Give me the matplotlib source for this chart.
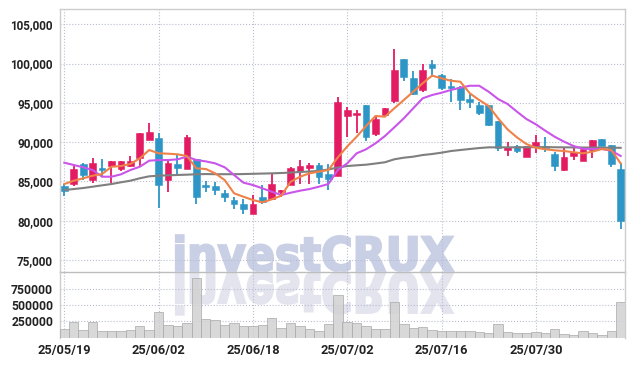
import matplotlib
matplotlib.use('Agg')
import matplotlib.pyplot as plt
from matplotlib.ticker import FuncFormatter, FixedLocator
from matplotlib.textpath import TextPath
from matplotlib.patches import PathPatch
from matplotlib.transforms import Affine2D
from matplotlib.font_manager import FontProperties

# daily candles, 60 sessions
date_labels = ['25/05/19', '25/06/02', '25/06/18', '25/07/02', '25/07/16', '25/07/30']
date_pos = [0, 10, 20, 30, 40, 50]

opens = [84400, 84700, 87200, 85200, 86700, 87000, 86600, 87000, 88000, 90300,
         90500, 85200, 87200, 86600, 87900, 84500, 84400, 83500, 82600, 82100,
         80900, 83000, 82700, 83600, 84600, 86300, 86700, 87100, 85900, 85700,
         93300, 93500, 94700, 91000, 93400, 95300, 100600, 98200, 96700, 100000,
         98500, 97200, 97000, 95500, 94700, 94700, 92700, 89000, 89500, 88100,
         89500, 89500, 88500, 86400, 88200, 87600, 89000, 90400, 89700, 86600]
highs = [84700, 87100, 87300, 88000, 87800, 87600, 87600, 88200, 91200, 92500,
         91200, 87800, 88400, 90900, 87900, 85000, 84900, 83900, 83000, 82700,
         83300, 84600, 86000, 83900, 86800, 87700, 87400, 87300, 87200, 95700,
         94500, 94100, 94700, 93300, 94400, 101800, 100600, 99000, 99900, 100500,
         98700, 98100, 97200, 96100, 95100, 94700, 92700, 90000, 89600, 89500,
         90900, 90700, 88800, 89200, 89400, 89200, 90300, 90400, 89700, 87300]
lows = [83200, 84400, 85200, 84800, 85700, 84800, 86300, 86800, 86900, 90300,
        81600, 83700, 85800, 86600, 82100, 83700, 83300, 82400, 81500, 80900,
        80900, 82100, 82600, 83000, 84500, 84700, 84700, 84700, 83900, 85700,
        90600, 91200, 90200, 90800, 93400, 95000, 97800, 96000, 96400, 98400,
        96600, 95100, 94100, 94300, 93500, 92100, 88900, 88300, 88600, 88100,
        88600, 88800, 86300, 86300, 87700, 87600, 88000, 89500, 86800, 79000]
closes = [83800, 86600, 85800, 87400, 86400, 87600, 87600, 87600, 91200, 91300,
          84500, 87400, 86700, 90600, 83000, 84300, 83900, 83000, 82100, 81500,
          82100, 82400, 84700, 83900, 86700, 87000, 87100, 85600, 85300, 95100,
          94100, 93700, 90600, 92900, 94300, 99200, 98300, 96100, 99200, 99400,
          96900, 96900, 95400, 95100, 93700, 92200, 89300, 89400, 88900, 89500,
          90000, 89300, 87000, 88100, 88800, 89100, 90300, 89500, 87200, 80000]
volumes = [134000, 242000, 119000, 242000, 103000, 103000, 103000, 119000, 181000, 119000,
           397000, 196000, 181000, 227000, 917000, 284000, 273000, 196000, 227000, 181000,
           181000, 196000, 299000, 145000, 227000, 181000, 134000, 103000, 206000, 659000,
           247000, 222000, 185000, 134000, 134000, 546000, 211000, 145000, 160000, 119000,
           103000, 103000, 103000, 103000, 83000, 68000, 206000, 83000, 68000, 68000,
           83000, 68000, 130000, 52000, 42000, 103000, 68000, 46000, 103000, 546000]

# moving average lines
ma_short = [84670, 85090, 85400, 85730, 85940, 86870, 86960, 87220, 87940, 89000,
            88580, 88530, 88450, 88230, 86670, 86580, 86030, 85180, 83490, 83050,
            82630, 82340, 82720, 83180, 84960, 85600, 86030, 86240, 86450, 88050,
            89450, 90690, 92050, 93330, 93240, 94310, 95360, 96420, 97490, 98470,
            98130, 97820, 97690, 96220, 95360, 94600, 93030, 91630, 90610, 89760,
            89290, 89090, 88960, 88870, 88710, 88580, 88780, 89130, 89000, 87300]
ma_mid = [87380, 87090, 86800, 86450, 85600, 85600, 85900, 86450, 86870, 87640,
          87720, 87720, 87810, 88150, 87720, 87550, 87300, 86800, 85820, 84840,
          84540, 84120, 83690, 83270, 83560, 83820, 84030, 84330, 84670, 86450,
          87300, 88580, 89090, 89850, 90780, 91890, 93030, 94310, 95580, 96000,
          96290, 96640, 96930, 97180, 97180, 96420, 95490, 94860, 93880, 92950,
          92270, 91460, 90690, 90060, 89510, 89160, 89130, 89130, 88910, 88240]
ma_long = [83910, 84030, 84160, 84330, 84500, 84670, 84890, 85090, 85400, 85650,
           85730, 85780, 85820, 85860, 85910, 85940, 85920, 85920, 85920, 85940,
           85970, 86000, 86030, 86070, 86130, 86200, 86260, 86350, 86520, 86770,
           86960, 87050, 87130, 87280, 87440, 87820, 88020, 88150, 88360, 88490,
           88660, 88870, 89000, 89130, 89250, 89340, 89340, 89340, 89340, 89350,
           89360, 89360, 89350, 89340, 89330, 89320, 89310, 89300, 89290, 89280]

UP = '#e31b62'
DOWN = '#2e96c7'
GRID = '#b9bdd2'
SPINE = '#cccccc'
TXT = '#222222'

fig = plt.figure(figsize=(6.34, 3.66), dpi=100)
ax = fig.add_axes([60/634, 1-272/366, 565/634, 263/366])
axv = fig.add_axes([60/634, 1-337.5/366, 565/634, 65.5/366], sharex=ax)
ax.set_facecolor('none')
axv.set_facecolor('none')

# watermark + reflection, drawn in pixel space behind the axes
# (stroked as well as filled so the letters come out heavy)
fp = FontProperties(family='DejaVu Sans', weight='bold')
tp = TextPath((0, 0), 'investCRUX', size=40, prop=fp)
ext = tp.get_extents()
sx = 277.0 / ext.width
sy = 35.4 / ext.y1
base = 366 - 270.7
t_main = Affine2D().translate(-ext.x0, 0).scale(sx, sy).translate(176.0, base)
t_refl = Affine2D().translate(-ext.x0, 0).scale(sx, -sy * 1.17).translate(176.0, base - 2.4)
fig.add_artist(PathPatch(tp, transform=t_main, facecolor='#c9cfe4', edgecolor='#c9cfe4',
                         linewidth=1.6, zorder=-2))
fig.add_artist(PathPatch(tp, transform=t_refl, facecolor='#e3e4ed', edgecolor='#e3e4ed',
                         linewidth=1.6, zorder=-2))

x = list(range(len(closes)))
cols = [UP if c >= o else DOWN for o, c in zip(opens, closes)]
bottoms = [min(o, c) for o, c in zip(opens, closes)]
heights = [max(abs(c - o), 120) for o, c in zip(opens, closes)]

ax.vlines(x, lows, highs, colors=cols, linewidth=1.3, zorder=3)
ax.bar(x, heights, bottom=bottoms, width=0.72, color=cols, edgecolor=cols, linewidth=0.4, zorder=4)

ax.plot(x, ma_long, color='#7f7f7f', linewidth=1.5, zorder=5)
ax.plot(x, ma_mid, color='#c955ea', linewidth=1.5, zorder=5)
ax.plot(x, ma_short, color='#ef8248', linewidth=1.5, zorder=6)

ax.set_xlim(-0.46, 59.46)
ax.set_ylim(73470, 106950)
ax.yaxis.set_major_locator(FixedLocator(list(range(75000, 105001, 5000))))
ax.yaxis.set_major_formatter(FuncFormatter(lambda v, p: f'{int(v):,}'))

axv.bar(x, volumes, width=1.0, color='#d2d2d2', edgecolor='#a9a9a9', linewidth=0.6, alpha=0.85, zorder=3)
axv.set_ylim(0, 1014000)
axv.yaxis.set_major_locator(FixedLocator([250000, 500000, 750000]))
axv.yaxis.set_major_formatter(FuncFormatter(lambda v, p: f'{int(v)}'))

axv.set_xticks(date_pos)
axv.set_xticklabels(date_labels)
ax.tick_params(axis='x', labelbottom=False)

for a in (ax, axv):
    a.grid(True, which='major', linestyle=':', color=GRID, linewidth=0.8, zorder=0)
    a.set_axisbelow(True)
    a.tick_params(length=0, colors=TXT)
    for s in a.spines.values():
        s.set_color(SPINE)
        s.set_linewidth(1.0)
ax.spines['bottom'].set_color('#bdbdbd')
axv.spines['top'].set_visible(False)
axv.spines['bottom'].set_visible(False)

for lab in ax.get_yticklabels():
    lab.set_fontfamily('Roboto')
    lab.set_fontweight('bold')
    lab.set_fontsize(8.4)
for lab in axv.get_yticklabels():
    lab.set_fontfamily('Roboto')
    lab.set_fontweight('bold')
    lab.set_fontsize(8.7)
for lab in axv.get_xticklabels():
    lab.set_fontfamily('Roboto')
    lab.set_fontweight('bold')
    lab.set_fontsize(9.2)
ax.tick_params(axis='y', pad=5)
axv.tick_params(axis='y', pad=5)
axv.tick_params(axis='x', pad=5)

fig.savefig('out.png', dpi=100)
